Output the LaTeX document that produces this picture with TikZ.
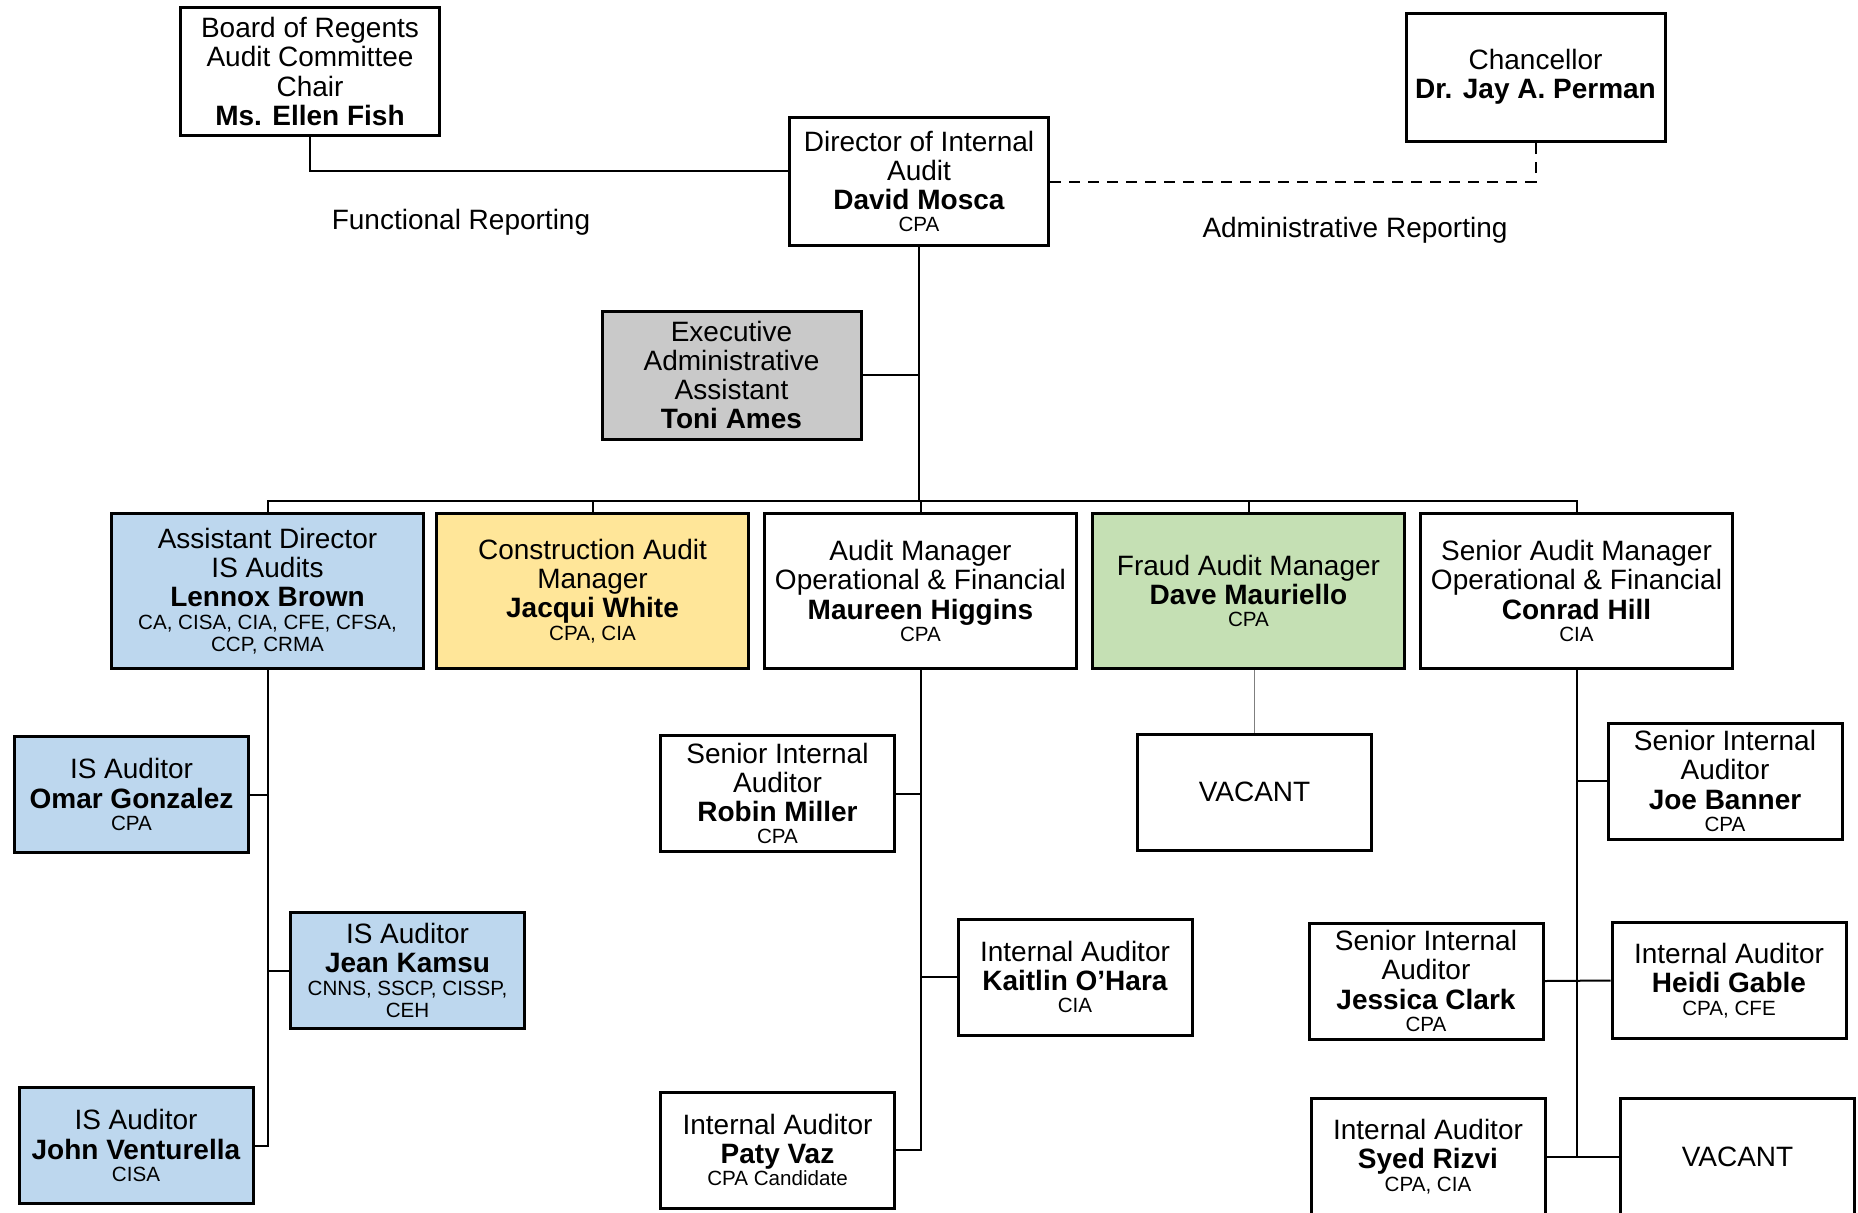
\documentclass[tikz,border=0pt]{standalone}
\usepackage{fontspec}
\setmainfont{Liberation Sans}
\usetikzlibrary{positioning,calc}
\definecolor{isblue}{HTML}{BDD7EE}
\definecolor{conyellow}{HTML}{FFE699}
\definecolor{fraudgreen}{HTML}{C5E0B4}
\definecolor{assistgray}{HTML}{C9C9C9}
\definecolor{thinrule}{HTML}{7F7F7F}
\newcommand{\pname}[1]{\textbf{#1}}
\newcommand{\pcred}[1]{{\fontsize{10.3}{11.2}\selectfont #1}}
\tikzset{orgbox/.style={draw=black,line width=1.5pt,fill=white,align=center,inner sep=2pt,
 font=\fontsize{14}{14.6}\selectfont},
 orgline/.style={draw=black,line width=1pt},
 orgnote/.style={font=\fontsize{14}{14.6}\selectfont}}

\begin{document}
\begin{tikzpicture}[x=0.5pt,y=-0.5pt,
 topbox/.style={orgbox,minimum width=129.5pt,minimum height=64pt},
 rowbox/.style={orgbox,minimum width=156pt,minimum height=77.5pt},
 leafbox/.style={orgbox,minimum width=117pt,minimum height=58pt}]
\useasboundingbox (0,0) rectangle (1858,1212);
\clip (0,0) rectangle (1858,1212);
\node[topbox] (board) at (310,71.5) {Board of Regents\\Audit Committee\\Chair\\\pname{Ms. Ellen Fish}};
\node[topbox] (dir) at (919,181.5) {Director of Internal\\Audit\\\pname{David Mosca}\\[-3.5pt]\pcred{CPA}};
\node[topbox] (chan) at (1535.5,77) {Chancellor\\\pname{Dr. Jay A. Perman}};
\node[topbox,fill=assistgray] (exec) at (731.5,375) {Executive\\Administrative\\Assistant\\\pname{Toni Ames}};
\node[orgnote] (funct) at (461,222) {Functional Reporting};
\node[orgnote] (admin) at (1355,230) {Administrative Reporting};

\node[rowbox,fill=isblue] (lennox) at (267.5,591) {Assistant Director\\IS Audits\\\pname{Lennox Brown}\\[-3.5pt]\pcred{CA, CISA, CIA, CFE, CFSA,}\\[-3.5pt]\pcred{CCP, CRMA}};
\node[rowbox,fill=conyellow] (jacqui) at (592.5,591) {Construction Audit\\Manager\\\pname{Jacqui White}\\[-3.5pt]\pcred{CPA, CIA}};
\node[rowbox] (maureen) at (920.5,591) {Audit Manager\\Operational \& Financial\\\pname{Maureen Higgins}\\[-3.5pt]\pcred{CPA}};
\node[rowbox,fill=fraudgreen] (dave) at (1248.5,591) {Fraud Audit Manager\\\pname{Dave Mauriello}\\[-3.5pt]\pcred{CPA}};
\node[rowbox] (conrad) at (1576.5,591) {Senior Audit Manager\\Operational \& Financial\\\pname{Conrad Hill}\\[-3.5pt]\pcred{CIA}};

\node[leafbox,fill=isblue] (omar) at (131.5,794.5) {IS Auditor\\\pname{Omar Gonzalez}\\[-3.5pt]\pcred{CPA}};
\node[leafbox,fill=isblue] (jean) at (407.5,970.5) {IS Auditor\\\pname{Jean Kamsu}\\[-3.5pt]\pcred{CNNS, SSCP, CISSP,}\\[-3.5pt]\pcred{CEH}};
\node[leafbox,fill=isblue] (john) at (136,1145.5) {IS Auditor\\\pname{John Venturella}\\[-3.5pt]\pcred{CISA}};
\node[leafbox] (robin) at (777.5,793.5) {Senior Internal\\Auditor\\\pname{Robin Miller}\\[-3.5pt]\pcred{CPA}};
\node[leafbox] (kaitlin) at (1075,977) {Internal Auditor\\\pname{Kaitlin O’Hara}\\[-3.5pt]\pcred{CIA}};
\node[leafbox] (paty) at (777.5,1150) {Internal Auditor\\\pname{Paty Vaz}\\[-3.5pt]\pcred{CPA Candidate}};
\node[leafbox] (vacfraud) at (1254.5,792) {VACANT};
\node[leafbox] (joe) at (1725,781) {Senior Internal\\Auditor\\\pname{Joe Banner}\\[-3.5pt]\pcred{CPA}};
\node[leafbox] (jessica) at (1426,981) {Senior Internal\\Auditor\\\pname{Jessica Clark}\\[-3.5pt]\pcred{CPA}};
\node[leafbox] (heidi) at (1729,980.5) {Internal Auditor\\\pname{Heidi Gable}\\[-3.5pt]\pcred{CPA, CFE}};
\node[leafbox] (syed) at (1428,1156.5) {Internal Auditor\\\pname{Syed Rizvi}\\[-3.5pt]\pcred{CPA, CIA}};
\node[leafbox] (vacops) at (1737.5,1156.5) {VACANT};

\draw[orgline] (board.south) |- ([yshift=5.5pt]dir.west);
\draw[orgline,dash pattern=on 5.5pt off 4pt] (dir.east) -| (chan.south);
\coordinate (bar) at (919,501);
\draw[orgline] (dir.south) -- (bar);\draw[orgline] (exec.east) -- (exec.east -| dir.south);
\draw[orgline] (lennox.north) |- (bar) -| (conrad.north);
\foreach \m in {jacqui,maureen,dave} \draw[orgline] (\m.north) -- (\m.north |- bar);

\draw[orgline] (lennox.south) |- (john.east);
\draw[orgline] (omar.east) -- (omar.east -| lennox.south);\draw[orgline] (jean.west) -- (jean.west -| lennox.south);
\draw[orgline] (maureen.south) |- (paty.east);
\draw[orgline] (robin.east) -- (robin.east -| maureen.south);\draw[orgline] (kaitlin.west) -- (kaitlin.west -| maureen.south);
\draw[draw=thinrule,line width=0.6pt] (vacfraud.north) -- (vacfraud.north |- dave.south);
\draw[orgline] (conrad.south) -- (conrad.south |- syed.east);
\draw[orgline] (syed.east) -- (vacops.west);\draw[orgline] (jessica.east) -- (heidi.west);
\draw[orgline] (joe.west) -- (joe.west -| conrad.south);
\end{tikzpicture}
\end{document}
